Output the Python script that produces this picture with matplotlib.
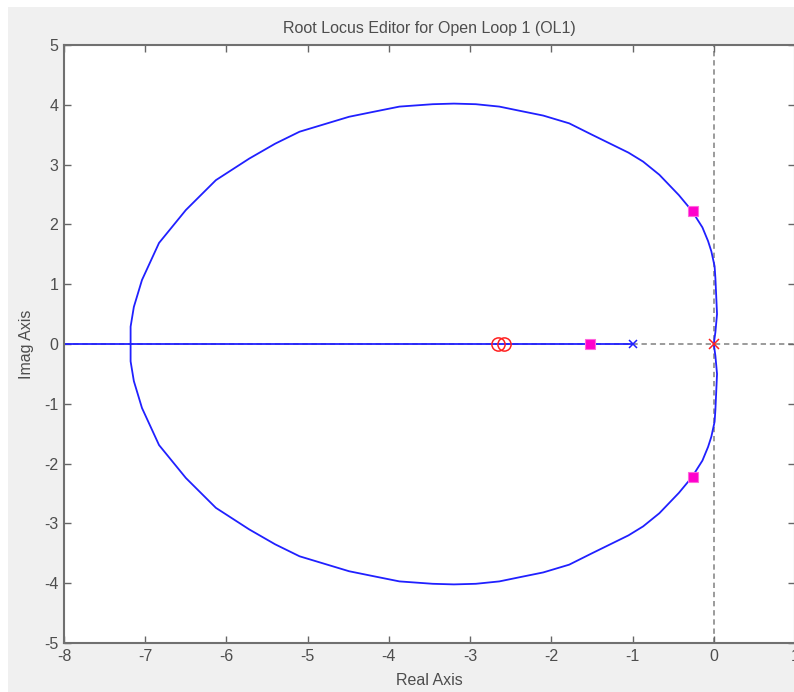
import numpy as np
import matplotlib
matplotlib.use("Agg")
import matplotlib.pyplot as plt
from matplotlib import font_manager
from matplotlib.patches import Rectangle

# Upper branch of the complex root locus (lower branch is its conjugate)
locus_re = [0.00, 0.02, 0.04, 0.03, 0.02, 0.01, -0.03, -0.07, -0.14, -0.21,
            -0.26, -0.32, -0.43, -0.55, -0.67, -0.87, -1.05, -1.20, -1.50,
            -1.78, -2.10, -2.39, -2.64, -2.93, -3.20, -3.46, -3.87, -4.20,
            -4.49, -5.10, -5.40, -5.72, -6.13, -6.50, -6.83, -7.04, -7.14,
            -7.18, -7.18]
locus_im = [0.00, 0.20, 0.50, 0.80, 1.10, 1.30, 1.55, 1.72, 1.95, 2.10,
            2.21, 2.31, 2.49, 2.66, 2.83, 3.05, 3.20, 3.30, 3.50,
            3.69, 3.82, 3.90, 3.97, 4.01, 4.02, 4.01, 3.97, 3.88,
            3.80, 3.55, 3.35, 3.10, 2.74, 2.24, 1.69, 1.07, 0.62,
            0.29, 0.00]

# Real-axis segment of the locus
real_seg = [-8.0, -1.0]

plant_zeros = [-2.66, -2.58]
plant_poles = [0.0]
comp_poles = [-1.0]
cl_poles_re = [-1.53, -0.26, -0.26]
cl_poles_im = [0.0, 2.22, -2.22]

xticks = [-8, -7, -6, -5, -4, -3, -2, -1, 0, 1]
yticks = [-5, -4, -3, -2, -1, 0, 1, 2, 3, 4, 5]

names = {f.name for f in font_manager.fontManager.ttflist}
fam = "Liberation Sans Narrow" if "Liberation Sans Narrow" in names else "Liberation Sans"
plt.rcParams['font.family'] = [fam, 'DejaVu Sans']
plt.rcParams['axes.unicode_minus'] = False

txt = '#4d4d4d'
W, H = 794, 692
fig = plt.figure(figsize=(W / 100, H / 100), dpi=100, facecolor='white')
fig.patches.append(Rectangle((8 / W, 0), 1, 1 - 7 / H, transform=fig.transFigure,
                             facecolor='#f0f0f0', edgecolor='none', zorder=-10))

ax = fig.add_axes([64 / W, 49 / H, 731 / W, 598 / H])
ax.set_facecolor('white')
ax.set_xlim(-8, 1)
ax.set_ylim(-5, 5)

# reference axes through the origin
ax.axvline(0, color='#808080', lw=1.1, ls=(0, (3.5, 2.5)), zorder=1)
ax.axhline(0, color='#808080', lw=1.1, ls=(0, (3.5, 2.5)), zorder=1)

blue = '#2020ff'
re = np.array(locus_re)
im = np.array(locus_im)
ax.plot(re, im, color=blue, lw=1.3, zorder=2)
ax.plot(re, -im, color=blue, lw=1.3, zorder=2)
ax.plot(real_seg, [0, 0], color=blue, lw=1.3, zorder=2)

ax.plot(plant_zeros, [0] * len(plant_zeros), 'o', mfc='none', mec='#ff2020',
        ms=9.5, mew=1.1, zorder=4)
ax.plot(plant_poles, [0] * len(plant_poles), 'x', color='#ff2020', ms=7.5,
        mew=1.1, zorder=4)
ax.plot(comp_poles, [0] * len(comp_poles), 'x', color=blue, ms=5.5,
        mew=1.1, zorder=4)
ax.plot(cl_poles_re, cl_poles_im, 's', mfc='#ff00cc', mec='#ff66dd',
        ms=7.5, mew=0.8, zorder=5)

ax.set_xticks(xticks)
ax.set_yticks(yticks)
ax.tick_params(direction='in', length=5, width=1, colors='#666666',
               labelcolor=txt, labelsize=11.5, top=True, right=True)
ax.tick_params(axis='x', pad=4)
ax.tick_params(axis='y', pad=4)
for s in ax.spines.values():
    s.set_color('#707070')
    s.set_linewidth(1.5)

ax.set_title('Root Locus Editor for Open Loop 1 (OL1)', color=txt, fontsize=11.5, pad=9)
ax.set_xlabel('Real Axis', color=txt, fontsize=11.5, labelpad=7)
ax.set_ylabel('Imag Axis', color=txt, fontsize=11.5, labelpad=7)

fig.savefig('out.png', dpi=100, facecolor=fig.get_facecolor())
